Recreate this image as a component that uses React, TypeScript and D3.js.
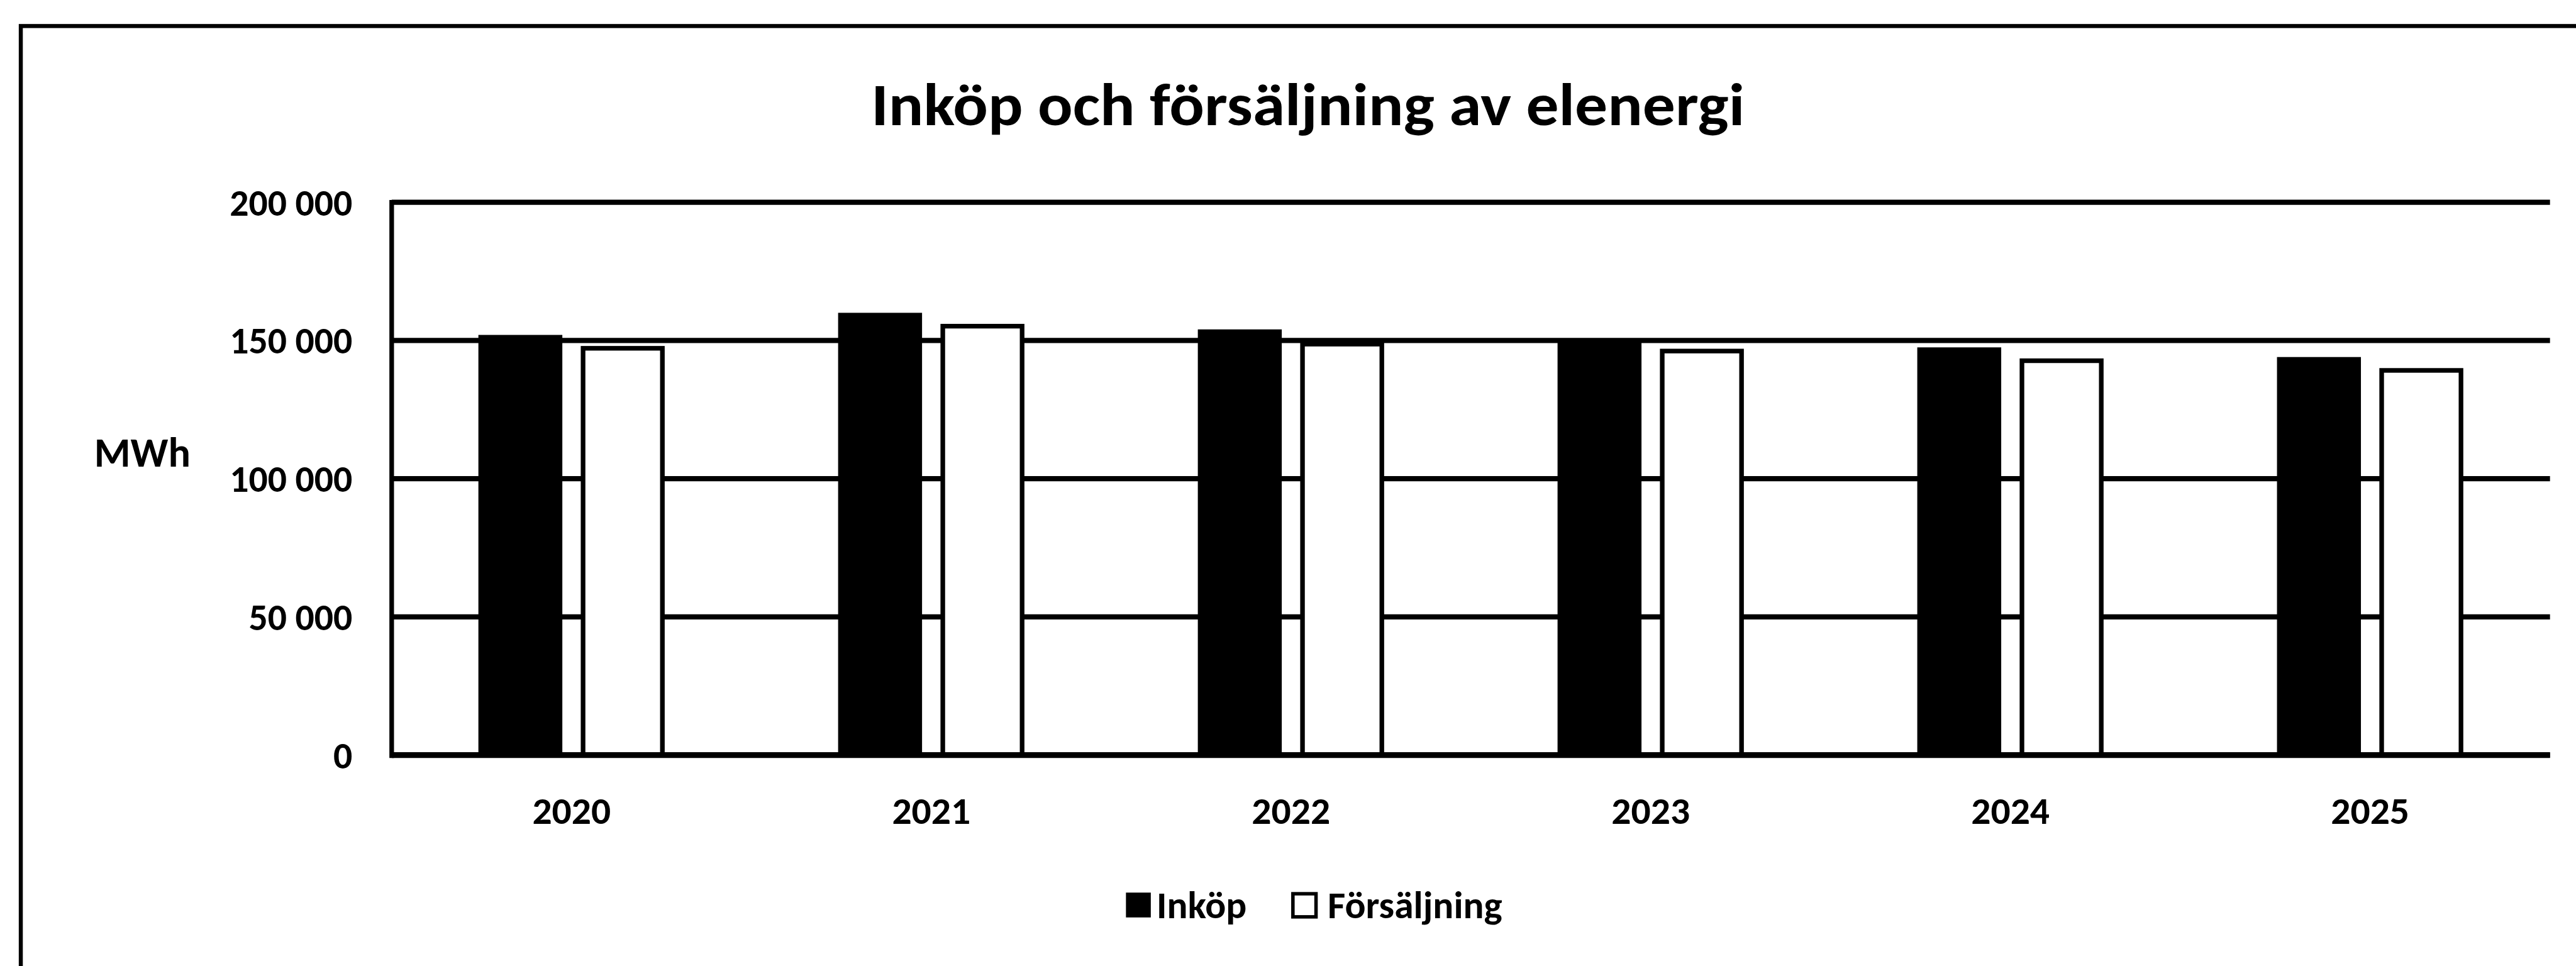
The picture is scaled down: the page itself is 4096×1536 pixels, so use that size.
import React from "react";
import * as d3 from "d3";

// values (MWh)
const years = ["2020", "2021", "2022", "2023", "2024", "2025"];
const inkop = [152000, 160000, 154000, 150500, 147500, 144000];
const forsaljning = [148000, 156000, 149500, 147000, 143500, 140000];
const seriesNames = ["Inköp", "Försäljning"];
const yTicks = [0, 50000, 100000, 150000, 200000];

const W = 4459;
const H = 1672;
const FONT = "Calibri, Carlito, Lato, sans-serif";

const plot = { left: 678, right: 4414, top: 350, bottom: 1307 };

const sv = d3.formatLocale({ decimal: ",", thousands: " ", grouping: [3], currency: ["", " kr"] });
const fmt = sv.format(",d");

const App = () => {
	const x0 = d3.scaleBand<string>().domain(years).range([plot.left, plot.right]).paddingInner(0).paddingOuter(0);
	const x1 = d3
		.scaleBand<string>()
		.domain(seriesNames)
		.range([0, x0.bandwidth()])
		.paddingInner(0.18)
		.paddingOuter(0.847);
	const y = d3.scaleLinear().domain([0, 200000]).range([plot.bottom, plot.top]);

	const bw = x1.bandwidth();
	const sw = 8; // outline of the white bars

	return (
		<svg
			width={4096}
			height={1536}
			viewBox={`0 0 ${W} ${H}`}
			style={{ position: "fixed", left: 0, top: 0, background: "#fff" }}
		>
			<rect x={0} y={0} width={W} height={H} fill="#fff" />
			{/* chart frame, right and bottom edges fall outside the scan */}
			<rect x={36} y={45} width={W + 40} height={H + 40} fill="none" stroke="#000" strokeWidth={7} />

			<text
				x={2264}
				y={217}
				textAnchor="middle"
				fontFamily={FONT}
				fontWeight="bold"
				fontSize={104}
				textLength={1512}
				lengthAdjust="spacingAndGlyphs"
			>
				Inköp och försäljning av elenergi
			</text>

			{/* gridlines */}
			{yTicks.map((t) => (
				<line key={t} x1={plot.left} x2={plot.right} y1={y(t)} y2={y(t)} stroke="#000" strokeWidth={9} />
			))}

			{/* y tick labels */}
			{yTicks.map((t) => (
				<text
					key={`l${t}`}
					x={610}
					y={y(t) + 23}
					textAnchor="end"
					fontFamily={FONT}
					fontWeight={600}
					fontSize={65}
				>
					{fmt(t)}
				</text>
			))}

			<text x={163} y={808} fontFamily={FONT} fontWeight={600} fontSize={72}>
				MWh
			</text>

			{/* bars */}
			{years.map((yr, i) => {
				const gx = x0(yr)!;
				return (
					<g key={yr}>
						<rect
							x={gx + x1("Inköp")!}
							y={y(inkop[i])}
							width={bw}
							height={y(0) - y(inkop[i])}
							fill="#000"
						/>
						<rect
							x={gx + x1("Försäljning")! + sw / 2}
							y={y(forsaljning[i]) + sw / 2}
							width={bw - sw}
							height={y(0) - y(forsaljning[i]) - sw / 2}
							fill="#fff"
							stroke="#000"
							strokeWidth={sw}
						/>
					</g>
				);
			})}

			{/* axes */}
			<line x1={plot.left} x2={plot.right} y1={y(0)} y2={y(0)} stroke="#000" strokeWidth={10} />
			<line x1={plot.left} x2={plot.left} y1={y(200000) - 4} y2={y(0) + 5} stroke="#000" strokeWidth={8} />

			{/* x labels */}
			{years.map((yr) => (
				<text
					key={`x${yr}`}
					x={x0(yr)! + x0.bandwidth() / 2}
					y={1426}
					textAnchor="middle"
					fontFamily={FONT}
					fontWeight="bold"
					fontSize={67}
				>
					{yr}
				</text>
			))}

			{/* legend */}
			<g>
				<rect x={1949} y={1545} width={43} height={43} fill="#000" />
				<text x={2002} y={1589} fontFamily={FONT} fontWeight="bold" fontSize={67}>
					{seriesNames[0]}
				</text>
				<rect x={2238} y={1547} width={40} height={40} fill="#fff" stroke="#000" strokeWidth={6} />
				<text x={2298} y={1589} fontFamily={FONT} fontWeight="bold" fontSize={67}>
					{seriesNames[1]}
				</text>
			</g>
		</svg>
	);
};

export default App;
